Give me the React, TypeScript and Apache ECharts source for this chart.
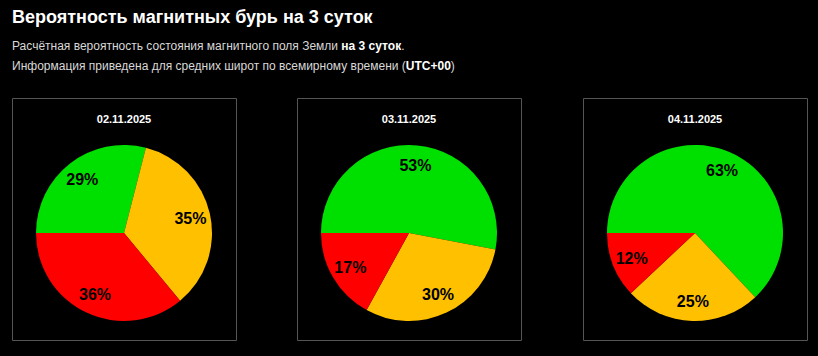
import React, { useEffect, useRef } from 'react';
import * as echarts from 'echarts';

const dates = ['02.11.2025', '03.11.2025', '04.11.2025'];
const categories = ['Спокойно', 'Возмущение', 'Буря'];
const greenValues = [29, 53, 63];
const yellowValues = [35, 30, 25];
const redValues = [36, 17, 12];
const sliceColors = ['#00e000', '#ffc000', '#ff0000'];

const FONT = '"Liberation Sans", Arial, sans-serif';

export default function App() {
  const ref = useRef<HTMLDivElement>(null);
  useEffect(() => {
    if (!ref.current) return;
    const chart = echarts.init(ref.current, null, { renderer: 'svg' });
    const centersX = [124, 409, 695];
    const cy = 233;
    const r = 88;
    const boxW = 224;
    const boxH = 242;
    const boxTop = 98;

    const series: any[] = [];
    const graphics: any[] = [
      {
        type: 'text',
        x: 12,
        y: 17,
        style: {
          text: 'Вероятность магнитных бурь на 3 суток',
          fill: '#ffffff',
          font: `bold 18px ${FONT}`,
          textVerticalAlign: 'middle',
        },
      },
      {
        type: 'text',
        x: 12,
        y: 46,
        style: {
          text: 'Расчётная вероятность состояния магнитного поля Земли {b|на 3 суток}.',
          fill: '#d8d8d8',
          font: `12px ${FONT}`,
          textVerticalAlign: 'middle',
          rich: { b: { fill: '#ffffff', font: `bold 12px ${FONT}` } },
        },
      },
      {
        type: 'text',
        x: 12,
        y: 66,
        style: {
          text: 'Информация приведена для средних широт по всемирному времени ({b|UTC+00})',
          fill: '#d8d8d8',
          font: `12px ${FONT}`,
          textVerticalAlign: 'middle',
          rich: { b: { fill: '#ffffff', font: `bold 12px ${FONT}` } },
        },
      },
    ];

    dates.forEach((date, i) => {
      const cx = centersX[i];
      const data = [
        { name: categories[0], value: greenValues[i] },
        { name: categories[1], value: yellowValues[i] },
        { name: categories[2], value: redValues[i] },
      ];
      graphics.push({
        type: 'rect',
        shape: { x: cx - boxW / 2 + 0.5, y: boxTop + 0.5, width: boxW, height: boxH },
        style: { fill: 'none', stroke: '#555555', lineWidth: 1 },
        z: -1,
      });
      graphics.push({
        type: 'text',
        x: cx,
        y: 119,
        style: {
          text: date,
          fill: '#ffffff',
          font: `bold 11px ${FONT}`,
          textAlign: 'center',
          textVerticalAlign: 'middle',
        },
      });
      series.push({
        type: 'pie',
        center: [cx, cy],
        radius: [0, r],
        startAngle: 180,
        clockwise: true,
        silent: true,
        color: sliceColors,
        label: { show: false },
        labelLine: { show: false },
        emphasis: { disabled: true },
        data,
      });
      series.push({
        type: 'pie',
        center: [cx, cy],
        radius: [0, r * 1.48],
        startAngle: 180,
        clockwise: true,
        silent: true,
        z: 5,
        itemStyle: { color: 'rgba(0,0,0,0)' },
        label: {
          show: true,
          position: 'inside',
          formatter: '{c}%',
          color: '#000000',
          fontWeight: 'bold',
          fontSize: 16,
          fontFamily: FONT,
        },
        labelLine: { show: false },
        emphasis: { disabled: true },
        data,
      });
    });

    chart.setOption({
      animation: false,
      backgroundColor: '#000000',
      graphic: graphics,
      series,
    });
    return () => chart.dispose();
  }, []);
  return (
    <div
      ref={ref}
      style={{ position: 'absolute', left: 0, top: 0, width: 818, height: 356 }}
    />
  );
}
